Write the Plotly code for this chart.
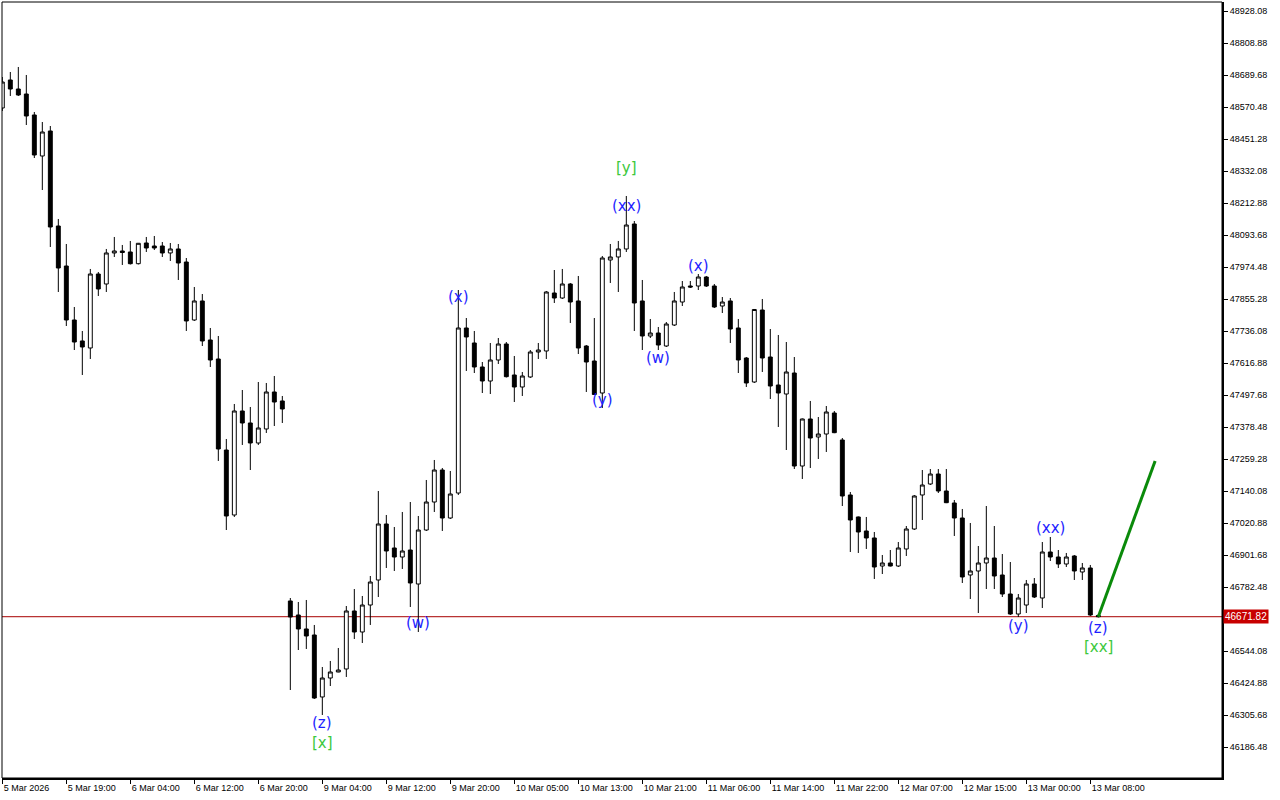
import plotly.graph_objects as go

# ---------------- data ----------------
bar_index = list(range(138))

open_ = [48566.8, 48671.1, 48637.5, 48618.9, 48540.7, 48388.0, 48481.1, 48127.2, 47978.2, 47777.1,
         47698.9, 47672.8, 47948.4, 47911.2, 48026.7, 48034.1, 48030.4, 47986.8, 48063.9, 48052.7,
         48052.7, 48026.7, 48041.6, 47993.1, 47777.1, 47847.9, 47702.6, 47631.8, 47292.8, 47050.7,
         47438.1, 47393.4, 47318.9, 47371.1, 47508.9, 47475.4, 46730.4, 46678.2, 46626.1, 46603.7,
         46372.8, 46443.5, 46465.9, 46477.1, 46693.1, 46614.9, 46715.4, 46808.6, 47017.2, 46927.8,
         46894.2, 46920.3, 46793.7, 46994.8, 47099.1, 47218.3, 47039.5, 47132.6, 47747.3, 47691.4,
         47602.0, 47549.8, 47628.1, 47687.7, 47572.2, 47527.5, 47564.8, 47657.9, 47661.6, 47877.6,
         47859.0, 47911.2, 47847.9, 47680.2, 47624.3, 47505.1, 48000.6, 48011.8, 48041.6, 48134.7,
         47847.9, 47717.5, 47728.6, 47680.2, 47758.4, 47844.1, 47903.7, 47903.7, 47937.2, 47903.7,
         47829.2, 47847.9, 47747.3, 47635.5, 47546.1, 47814.3, 47639.2, 47534.9, 47501.4, 47579.6,
         47233.2, 47408.3, 47341.3, 47352.4, 47430.6, 47330.1, 47125.2, 47043.3, 46991.1, 46965.1,
         46860.7, 46871.9, 46860.7, 46924.1, 46998.5, 47125.2, 47166.2, 47203.4, 47140.1, 47095.4,
         47039.5, 46827.2, 46842.1, 46871.9, 46890.5, 46827.2, 46756.4, 46681.9, 46715.4, 46793.7,
         46741.5, 46912.9, 46894.2, 46868.2, 46898.0, 46838.4, 46853.3, 46676.4]

high = [48682.2, 48700.9, 48719.5, 48689.7, 48551.9, 48514.6, 48499.7, 48153.3, 48060.2, 47825.5,
        47736.1, 47967.1, 47955.9, 48041.6, 48086.3, 48056.5, 48071.4, 48063.9, 48086.3, 48090.0,
        48067.6, 48063.9, 48060.2, 48008.0, 47900.0, 47873.9, 47747.3, 47717.5, 47333.8, 47464.2,
        47516.3, 47453.0, 47546.1, 47542.4, 47568.5, 47494.0, 46741.5, 46726.6, 46734.1, 46641.0,
        46484.5, 46506.9, 46555.3, 46711.7, 46775.0, 46749.0, 46823.5, 47140.1, 47050.7, 47006.0,
        47061.9, 47099.1, 47047.0, 47181.1, 47255.6, 47225.8, 47214.6, 47888.8, 47784.5, 47736.1,
        47620.6, 47691.4, 47710.0, 47695.1, 47643.0, 47583.4, 47665.3, 47691.4, 47885.1, 47963.3,
        47967.1, 47914.9, 47941.0, 47683.9, 47784.5, 48015.5, 48060.2, 48071.4, 48239.0, 48145.8,
        47926.1, 47780.8, 47751.0, 47769.6, 47881.4, 47922.3, 47922.3, 47948.4, 47941.0, 47911.2,
        47862.7, 47859.0, 47780.8, 47639.2, 47818.0, 47855.3, 47743.5, 47721.2, 47695.1, 47639.2,
        47410.2, 47475.4, 47415.7, 47456.7, 47438.1, 47337.5, 47136.4, 47045.1, 47043.3, 46987.4,
        46901.7, 46920.3, 46950.1, 47009.7, 47125.2, 47218.3, 47222.0, 47222.0, 47222.0, 47106.6,
        47073.1, 47020.9, 46935.2, 47084.2, 47009.7, 46905.4, 46875.6, 46756.4, 46808.6, 46816.0,
        46950.1, 46968.8, 46920.3, 46909.2, 46901.7, 46871.9, 46864.5, 46681.9]

low = [48555.6, 48611.5, 48611.5, 48503.4, 48380.5, 48261.3, 48049.0, 47881.4, 47754.7, 47665.3,
       47572.2, 47631.8, 47866.5, 47881.4, 48011.8, 47982.0, 47983.8, 47984.0, 48030.4, 48037.8,
       48011.8, 47996.9, 47926.1, 47736.1, 47773.4, 47680.2, 47602.0, 47251.9, 46994.8, 47043.3,
       47311.5, 47218.3, 47311.5, 47356.2, 47382.2, 47393.4, 46398.8, 46547.8, 46551.6, 46365.3,
       46305.7, 46413.7, 46465.0, 46447.3, 46588.8, 46573.9, 46641.0, 46745.2, 46853.3, 46842.1,
       46849.6, 46708.0, 46614.9, 46991.1, 47061.9, 46991.1, 47035.8, 47125.2, 47587.1, 47579.6,
       47505.1, 47501.4, 47613.2, 47562.9, 47471.6, 47494.0, 47561.1, 47631.8, 47631.8, 47840.4,
       47855.3, 47765.9, 47650.4, 47508.9, 47497.7, 47449.3, 47914.9, 47881.4, 48030.4, 47736.1,
       47665.3, 47710.0, 47665.3, 47676.5, 47754.7, 47829.2, 47896.3, 47888.8, 47900.0, 47821.8,
       47803.1, 47691.4, 47579.6, 47527.5, 47542.4, 47583.4, 47482.8, 47378.5, 47292.8, 47222.0,
       47184.8, 47225.8, 47259.3, 47285.4, 47355.5, 47084.2, 46912.9, 46909.2, 46924.1, 46812.3,
       46830.9, 46858.9, 46857.0, 46898.0, 46994.8, 47032.1, 47162.4, 47132.6, 47095.0, 46972.5,
       46797.4, 46737.8, 46685.6, 46775.0, 46775.0, 46745.2, 46678.2, 46670.8, 46685.6, 46741.5,
       46704.3, 46879.3, 46853.3, 46857.0, 46808.6, 46808.6, 46674.5, 46669.0]

close = [48663.6, 48637.5, 48615.2, 48537.0, 48391.7, 48477.4, 48123.5, 47970.8, 47777.1, 47695.1,
         47676.5, 47948.4, 47892.6, 48026.7, 48034.1, 48028.5, 47986.8, 48062.8, 48045.3, 48045.3,
         48026.7, 48041.6, 47989.4, 47773.4, 47847.9, 47698.9, 47628.1, 47296.6, 47047.0, 47438.1,
         47393.4, 47318.9, 47374.8, 47508.9, 47471.6, 47445.6, 46670.8, 46626.1, 46600.0, 46369.0,
         46443.5, 46465.9, 46473.3, 46693.1, 46614.9, 46715.4, 46801.1, 47017.2, 46916.6, 46894.2,
         46916.6, 46797.4, 46994.8, 47099.1, 47218.3, 47039.5, 47128.9, 47747.3, 47713.8, 47602.0,
         47549.8, 47628.1, 47687.7, 47565.9, 47527.5, 47568.5, 47657.9, 47665.3, 47881.4, 47859.0,
         47911.2, 47844.1, 47672.8, 47620.6, 47499.6, 48008.0, 48011.8, 48041.6, 48130.9, 47840.4,
         47717.5, 47728.6, 47683.9, 47762.2, 47847.9, 47900.0, 47900.0, 47937.2, 47903.7, 47825.5,
         47844.1, 47743.5, 47628.1, 47542.4, 47816.2, 47635.5, 47531.2, 47505.1, 47583.4, 47233.2,
         47408.3, 47337.5, 47352.4, 47434.4, 47357.3, 47121.5, 47032.1, 46987.4, 46965.1, 46857.0,
         46871.9, 46860.7, 46927.8, 46998.5, 47121.5, 47162.4, 47203.4, 47140.1, 47096.5, 47039.5,
         46819.8, 46842.1, 46871.9, 46890.5, 46823.5, 46756.4, 46681.9, 46741.5, 46793.7, 46745.2,
         46912.9, 46894.2, 46868.2, 46894.2, 46842.1, 46853.3, 46678.2, 46671.82]

time_tick_index = [0, 8, 16, 24, 32, 40, 48, 56, 64, 72, 80, 88, 96, 104, 112, 120, 128, 136]
time_tick_labels = ["5 Mar 2026", "5 Mar 19:00", "6 Mar 04:00", "6 Mar 12:00", "6 Mar 20:00",
                    "9 Mar 04:00", "9 Mar 12:00", "9 Mar 20:00", "10 Mar 05:00", "10 Mar 13:00",
                    "10 Mar 21:00", "11 Mar 06:00", "11 Mar 14:00", "11 Mar 22:00", "12 Mar 07:00",
                    "12 Mar 15:00", "13 Mar 00:00", "13 Mar 08:00"]

price_ticks = [48928.08, 48808.88, 48689.68, 48570.48, 48451.28, 48332.08, 48212.88, 48093.68,
               47974.48, 47855.28, 47736.08, 47616.88, 47497.68, 47378.48, 47259.28, 47140.08,
               47020.88, 46901.68, 46782.48, 46544.08, 46424.88, 46305.68, 46186.48]

current_price = 46671.82

projection_index = [137, 144.1]
projection_price = [46671.82, 47252.0]

wave_text = ["(z)", "[x]", "(w)", "(x)", "(y)", "(xx)", "[y]", "(w)", "(x)", "(y)", "(xx)", "(z)", "[xx]"]
wave_index = [40, 40, 52, 57, 75, 78, 78, 82, 87, 127, 131, 137, 137]
wave_price = [46275.9, 46201.4, 46648.4, 47862.7, 47479.1, 48201.7, 48343.3, 47635.5, 47978.2,
              46637.2, 47002.3, 46629.8, 46558.9]
wave_degree = ["minor", "major", "minor", "minor", "minor", "minor", "major", "minor", "minor",
               "minor", "minor", "minor", "major"]

# ---------------- styles ----------------
BLUE = "#1e1eff"
GREEN = "#3cc83c"
degree_color = {"minor": BLUE, "major": GREEN}

fig = go.Figure()

fig.add_trace(go.Candlestick(
    x=bar_index, open=open_, high=high, low=low, close=close,
    increasing=dict(fillcolor="white", line=dict(color="black", width=1)),
    decreasing=dict(fillcolor="black", line=dict(color="black", width=1)),
    whiskerwidth=0, hoverinfo="skip", showlegend=False,
))

fig.add_trace(go.Scatter(
    x=projection_index, y=projection_price, mode="lines",
    line=dict(color="#0a8a0a", width=3), hoverinfo="skip", showlegend=False,
))

# current price line
fig.add_shape(type="line", xref="paper", x0=0, x1=1, yref="y", y0=current_price, y1=current_price,
              line=dict(color="#a80000", width=1), layer="below")

# frame (top / left thin border)
fig.add_shape(type="rect", xref="paper", yref="paper", x0=0, x1=1, y0=0, y1=1,
              line=dict(color="black", width=1), layer="above")

for t, xi, p, d in zip(wave_text, wave_index, wave_price, wave_degree):
    fig.add_annotation(x=xi, y=p, text=t, showarrow=False, xanchor="center", yanchor="middle",
                       font=dict(family="DejaVu Sans", size=15, color=degree_color[d]))

fig.add_annotation(x=1, xref="paper", y=current_price, yref="y", text=f"{current_price:.2f}",
                   showarrow=False, xanchor="left", yanchor="middle", xshift=1,
                   bgcolor="#c80000", borderpad=1,
                   font=dict(family="Liberation Sans", size=10, color="white"))

fig.update_layout(
    width=1280, height=800,
    margin=dict(l=2, r=58, t=2, b=22, pad=0),
    paper_bgcolor="white", plot_bgcolor="white",
    showlegend=False, hovermode=False,
    font=dict(family="Liberation Sans", size=9, color="black"),
    xaxis=dict(
        range=[-0.04, 152.46], rangeslider=dict(visible=False),
        showgrid=False, zeroline=False,
        showline=True, linecolor="black", linewidth=2,
        tickmode="array", tickvals=time_tick_index, ticktext=time_tick_labels,
        ticks="outside", ticklen=4, tickcolor="black", tickwidth=1,
        ticklabelposition="outside right",
        tickfont=dict(family="Liberation Sans", size=9, color="black"),
    ),
    yaxis=dict(
        range=[46071.0, 48961.6], side="right",
        showgrid=False, zeroline=False,
        showline=True, linecolor="black", linewidth=2,
        tickmode="array", tickvals=price_ticks, ticktext=[f"{v:.2f}" for v in price_ticks],
        ticks="outside", ticklen=4, tickcolor="black", tickwidth=1,
        tickfont=dict(family="Liberation Sans", size=9, color="black"),
    ),
)

fig.write_html("out.html", config={"displayModeBar": False},
               post_script="document.body.style.margin='0';document.body.style.overflow='hidden';")
